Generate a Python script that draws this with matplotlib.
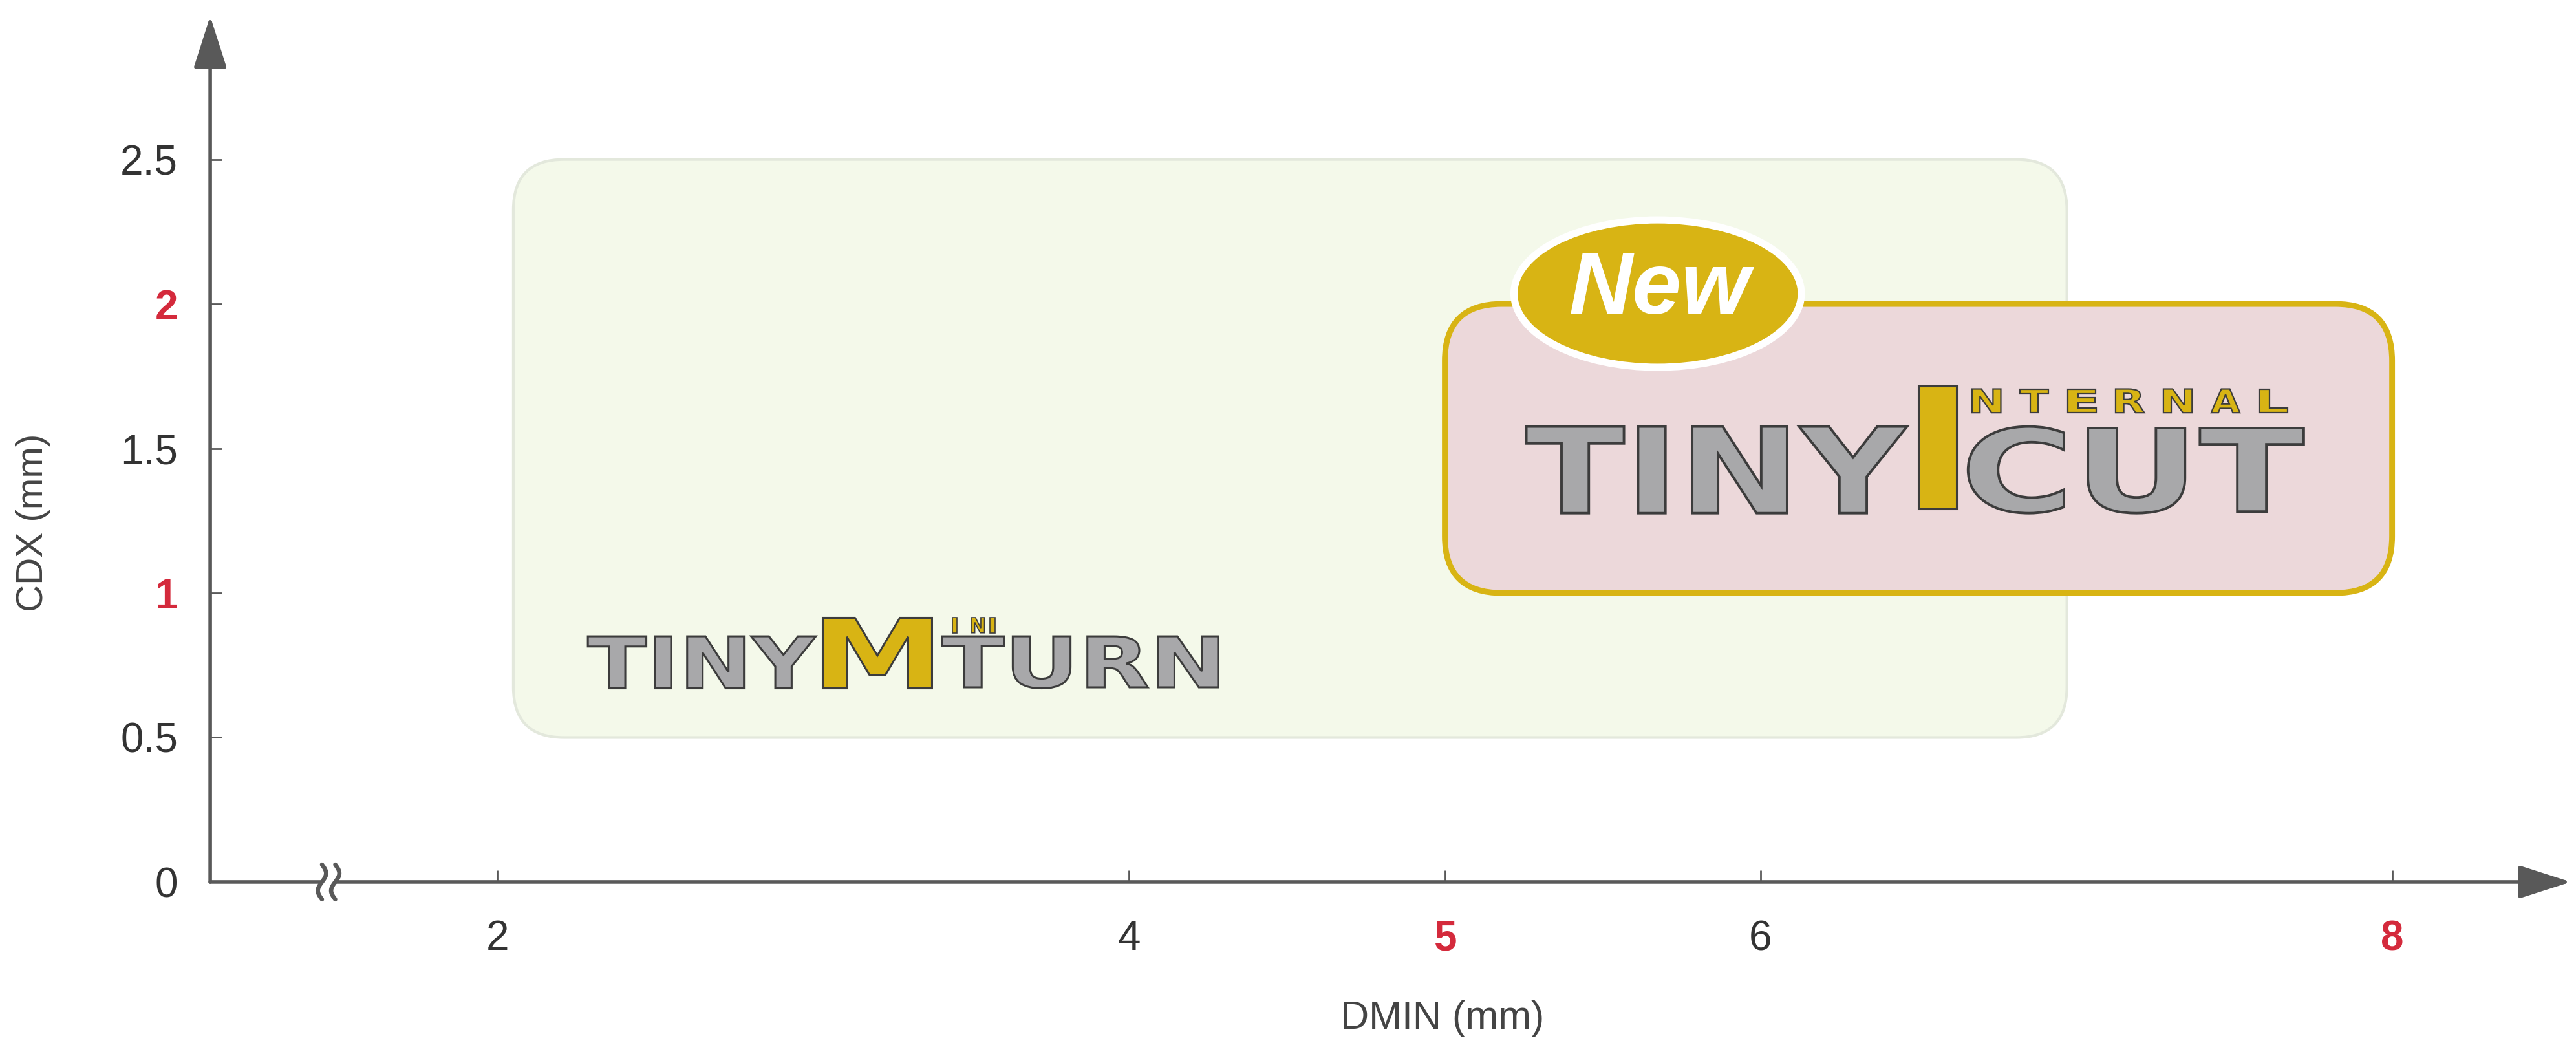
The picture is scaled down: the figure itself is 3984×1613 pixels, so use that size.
import numpy as np
import matplotlib
matplotlib.use("Agg")
import matplotlib.pyplot as plt
from matplotlib.patches import FancyBboxPatch, Ellipse, Rectangle, PathPatch
from matplotlib.textpath import TextPath
from matplotlib.font_manager import FontProperties
from matplotlib.transforms import Affine2D

plt.rcParams["font.family"] = ["Liberation Sans", "DejaVu Sans"]

# axis ticks
dmin_ticks = [2, 4, 5, 6, 8]
dmin_red = [5, 8]
cdx_ticks = [0, 0.5, 1, 1.5, 2, 2.5]
cdx_red = [1, 2]

# product ranges: DMIN (from, to), CDX (from, to)
mini_turn_dmin = [2.05, 6.97]
mini_turn_cdx = [0.5, 2.5]
internal_dmin = [5, 8]
internal_cdx = [1, 2]

GOLD = "#d8b414"
GREY = "#a8a8aa"
OUTLINE = "#3c3c3c"
RED = "#d42a3c"
AXIS = "#595959"

LOGO_FONT = FontProperties(family="DejaVu Sans", weight="bold")
SMALL_FONT = FontProperties(family="DejaVu Sans", weight="semibold")


def logo_word(ax, text, x0, x1, y0, y1, fc, ec=OUTLINE, lw=1.1, prop=LOGO_FONT):
    # stretch a text outline into the given box (data coords)
    tp = TextPath((0, 0), text, size=1, prop=prop)
    bb = tp.get_extents()
    tr = (Affine2D().translate(-bb.x0, -bb.y0)
          .scale((x1 - x0) / bb.width, (y1 - y0) / bb.height)
          .translate(x0, y0))
    ax.add_patch(PathPatch(tr.transform_path(tp), facecolor=fc, edgecolor=ec,
                           lw=lw, zorder=5))


def spaced_word(ax, text, x0, x1, y0, y1, fc, ec=OUTLINE, lw=0.8, fill=0.62):
    cell = (x1 - x0) / len(text)
    for i, ch in enumerate(text):
        cx = x0 + i * cell
        w = cell * fill * (0.35 if ch == "I" else 1.0)
        logo_word(ax, ch, cx, cx + w, y0, y1, fc, ec, lw, prop=SMALL_FONT)


fig = plt.figure(figsize=(19.92, 8.065), dpi=200)
ax = fig.add_axes([0.0816, 0.1544, 0.9164, 0.8301])
ax.set_xlim(1.09, 8.566)
ax.set_ylim(0, 2.996)
for s in ax.spines.values():
    s.set_visible(False)
ax.set_facecolor("none")

# range boxes
green = FancyBboxPatch((mini_turn_dmin[0], mini_turn_cdx[0]),
                       mini_turn_dmin[1] - mini_turn_dmin[0],
                       mini_turn_cdx[1] - mini_turn_cdx[0],
                       boxstyle="round,pad=0,rounding_size=0.16", mutation_aspect=1.09,
                       fc="#f4f9ea", ec="#e3e8dc", lw=1.5, zorder=1)
ax.add_patch(green)

pink = FancyBboxPatch((internal_dmin[0], internal_cdx[0]),
                      internal_dmin[1] - internal_dmin[0],
                      internal_cdx[1] - internal_cdx[0],
                      boxstyle="round,pad=0,rounding_size=0.18", mutation_aspect=1.09,
                      fc="#ecd8da", ec=GOLD, lw=3.2, zorder=2)
ax.add_patch(pink)

# "New" badge
ax.add_patch(Ellipse((5.674, 2.036), 0.91, 0.51, fc=GOLD, ec="white", lw=4, zorder=6))
ax.text(5.68, 1.966, "New", fontsize=49, fontweight="bold", style="italic",
        color="white", ha="center", va="baseline", zorder=7)

# TINY MINI TURN logo
logo_word(ax, "TINY", 2.286, 3.008, 0.67, 0.85, GREY)
logo_word(ax, "M", 3.03, 3.376, 0.67, 0.914, GOLD)
logo_word(ax, "TURN", 3.408, 4.282, 0.67, 0.85, GREY)
spaced_word(ax, "INI", 3.44, 3.62, 0.862, 0.915, GOLD, lw=0.6, fill=0.7)

# TINY INTERNAL CUT logo
logo_word(ax, "TINY", 5.258, 6.464, 1.276, 1.576, GREY, lw=1.4)
ax.add_patch(Rectangle((6.5, 1.291), 0.12, 0.425, fc=GOLD, ec=OUTLINE, lw=1.1, zorder=5))
logo_word(ax, "CUT", 6.657, 7.72, 1.276, 1.576, GREY, lw=1.4)
spaced_word(ax, "NTERNAL", 6.67, 7.73, 1.624, 1.706, GOLD, lw=0.8, fill=0.6)

# axes with arrow heads
arrow_kw = dict(arrowstyle="-|>,head_length=2.5,head_width=0.8", color=AXIS, lw=2.0,
                shrinkA=0, shrinkB=0, mutation_scale=10)
ax.annotate("", xy=(1, 0), xytext=(0, 0), xycoords="axes fraction",
            arrowprops=arrow_kw, annotation_clip=False, zorder=8)
ax.annotate("", xy=(0, 1), xytext=(0, 0), xycoords="axes fraction",
            arrowprops=arrow_kw, annotation_clip=False, zorder=8)

# axis break mark
ax.add_patch(Rectangle((1.44, -0.03), 0.05, 0.06, fc="white", ec="none",
                       zorder=9, clip_on=False))
s = np.linspace(0, 1, 50)
for bx in (1.444, 1.486):
    ax.plot(bx + 0.013 * np.sin(2 * np.pi * s), 0.06 - 0.12 * s, color=AXIS,
            lw=2.4, zorder=10, clip_on=False, solid_capstyle="round")

# ticks
ax.set_xticks(dmin_ticks)
ax.set_xticklabels([str(v) for v in dmin_ticks])
ax.set_yticks(cdx_ticks)
ax.set_yticklabels([f"{v:g}" for v in cdx_ticks])
ax.tick_params(axis="both", direction="in", length=6.5, width=1.0, color=AXIS,
               labelsize=23, labelcolor="#333333")
ax.tick_params(axis="x", pad=21)
ax.tick_params(axis="y", pad=18)
for lab, v in zip(ax.get_xticklabels(), dmin_ticks):
    if v in dmin_red:
        lab.set_color(RED)
        lab.set_fontweight("bold")
for lab, v in zip(ax.get_yticklabels(), cdx_ticks):
    if v in cdx_red:
        lab.set_color(RED)
        lab.set_fontweight("bold")

fig.text(0.560, 0.0235, "DMIN (mm)", fontsize=22, color="#444444", ha="center", va="center")
fig.text(0.0128, 0.499, "CDX (mm)", fontsize=21, color="#444444", ha="center", va="center",
         rotation=90)

fig.savefig("out.png", dpi=200, facecolor="white")
